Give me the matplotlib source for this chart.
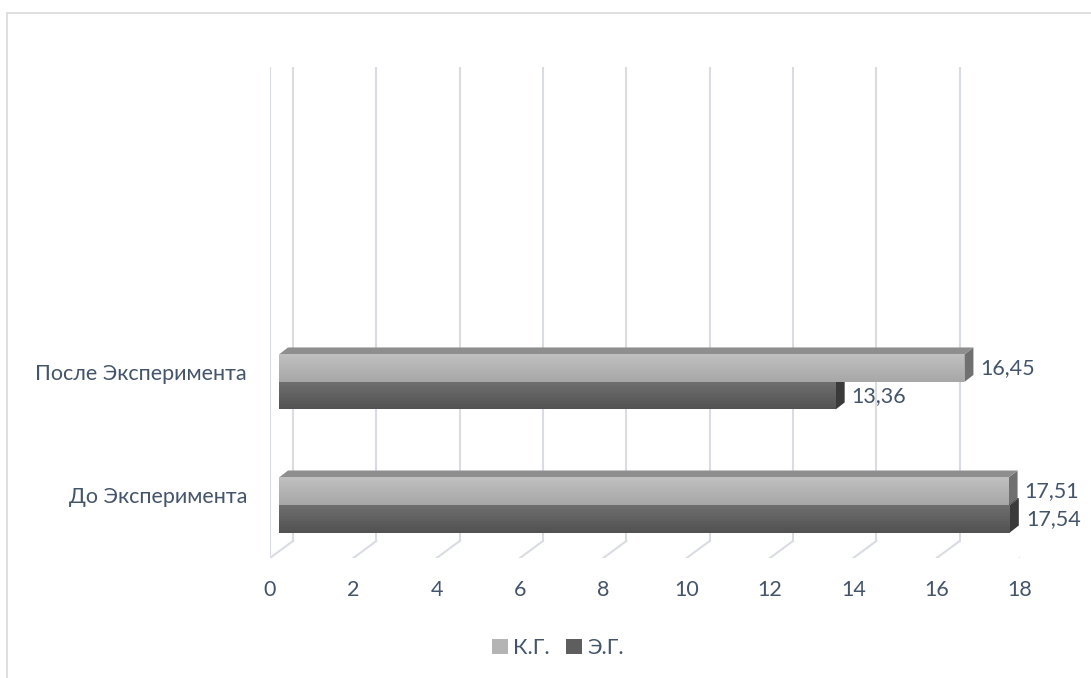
import numpy as np
import matplotlib as mpl
mpl.use("Agg")
import matplotlib.pyplot as plt
from matplotlib.patches import Polygon, Rectangle, Patch

W, H, DPI = 1091, 678, 100

categories = ["До Эксперимента", "После Эксперимента"]
series = ["К.Г.", "Э.Г."]
kg_vals = [17.51, 16.45]
eg_vals = [17.54, 13.36]
xticks = list(range(0, 19, 2))

TXT = "#44546A"
GRID = "#D9DCE3"
FS = 15.5
plt.rcParams["font.family"] = ["Lato", "DejaVu Sans"]

fig = plt.figure(figsize=(W / DPI, H / DPI), dpi=DPI)
fig.patch.set_facecolor("white")

# front plane of the 3-D box, in pixels
PL, PR, PB, PT = 270, 1020, 558, 67
ax = fig.add_axes([PL / W, 1 - PB / H, (PR - PL) / W, (PB - PT) / H])
XLIM, YLIM = (0, 18), (-0.39, 3.6)
ax.set_xlim(*XLIM); ax.set_ylim(*YLIM)
ax.patch.set_visible(False)
for s in ax.spines.values():
    s.set_visible(False)

ppx = (PR - PL) / (XLIM[1] - XLIM[0])
ppy = (PB - PT) / (YLIM[1] - YLIM[0])
def d(px, py):  # pixel offset -> data offset
    return px / ppx, py / ppy

WALL = d(23, 17)      # depth of the floor / back wall
BF = d(9, 5)          # front plane of the bars
BB = d(18, 12)        # back plane of the bars
bh = 27.5 / ppy       # bar thickness

# walls: left edge, back-wall gridlines, floor diagonals
ax.plot([0, 0], YLIM, color=GRID, lw=1.5, zorder=0)
for t in xticks:
    ax.plot([t + WALL[0]] * 2, [YLIM[0] + WALL[1], YLIM[1] + WALL[1]], color=GRID, lw=1.5, zorder=0)
    ax.plot([t, t + WALL[0]], [YLIM[0], YLIM[0] + WALL[1]], color=GRID, lw=1.5, zorder=0)

def bar3d(v, y0, top_c, bot_c, side_c, roof_c, z):
    y1 = y0 + bh
    # right end face
    ax.add_patch(Polygon([(v + BF[0], y0 + BF[1]), (v + BF[0], y1 + BF[1]),
                          (v + BB[0], y1 + BB[1]), (v + BB[0], y0 + BB[1])],
                         closed=True, fc=side_c, ec="none", zorder=z))
    # top face
    ax.add_patch(Polygon([(BF[0], y1 + BF[1]), (v + BF[0], y1 + BF[1]),
                          (v + BB[0], y1 + BB[1]), (BB[0], y1 + BB[1])],
                         closed=True, fc=roof_c, ec="none", zorder=z))
    # front face, vertical gradient
    n = 20
    c0 = np.array(mpl.colors.to_rgb(top_c)); c1 = np.array(mpl.colors.to_rgb(bot_c))
    for k in range(n):
        f = k / (n - 1)
        ax.barh(y1 + BF[1] - (k + 1) * bh / n, v, height=bh / n * 1.05, left=BF[0],
                align="edge", color=c0 * (1 - f) + c1 * f, lw=0, zorder=z + 0.1)

def label(v, ymid):
    txt = f"{v:.2f}".replace(".", ",")
    ax.annotate(txt, xy=(v + BB[0], ymid + BF[1]), xytext=(7, 0), textcoords="offset pixels",
                ha="left", va="center", fontsize=FS, color=TXT, zorder=10)

for i, cat in enumerate(categories):
    bar3d(eg_vals[i], i - bh, "#6E6E6E", "#525252", "#3A3A3A", "#4A4A4A", 2 + i)
    bar3d(kg_vals[i], i, "#BFBFBF", "#A7A7A7", "#707070", "#8E8E8E", 3 + i)
    label(kg_vals[i], i + bh / 2)
    label(eg_vals[i], i - bh / 2)
    ax.annotate(cat, xy=(0, i), xytext=(-23, 13), textcoords="offset pixels",
                ha="right", va="center", fontsize=FS, color=TXT)

ax.set_yticks([])
ax.set_xticks(xticks)
ax.set_xticklabels([str(t) for t in xticks])
ax.tick_params(axis="x", length=0, pad=16, labelsize=FS, labelcolor=TXT)

fig.legend(handles=[Patch(fc="#B4B4B4", ec="none"), Patch(fc="#5E5E5E", ec="none")],
           labels=series, loc="center", bbox_to_anchor=(558 / W, 1 - 648 / H), ncol=2,
           frameon=False, fontsize=FS, labelcolor=TXT, handlelength=0.75, handleheight=0.75,
           handletextpad=0.25, columnspacing=0.75)

# chart border
fig.add_artist(Rectangle((7 / W, -0.05), 1.2, 1.05 - 13 / H, transform=fig.transFigure,
                         fill=False, ec="#D9D9D9", lw=1.2))

fig.savefig("out.png", dpi=DPI, facecolor="white")
